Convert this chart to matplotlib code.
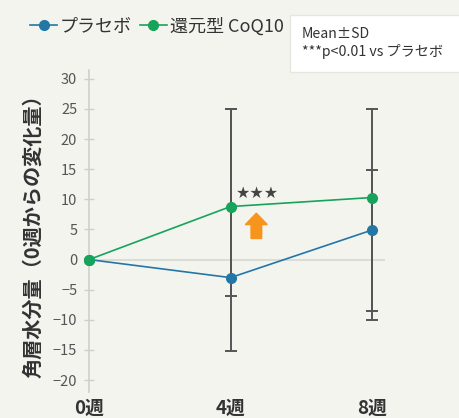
import matplotlib
matplotlib.use("Agg")
import matplotlib.pyplot as plt
from matplotlib.lines import Line2D
from matplotlib.patches import FancyArrow, Rectangle

plt.rcParams['font.family'] = ['Noto Sans CJK JP', 'DejaVu Sans']

# data
weeks = [0, 4, 8]
week_labels = ['0週', '4週', '8週']
placebo = [0, -3.0, 4.9]
coq10 = [0, 8.8, 10.3]
# error bar ends
placebo_low = [0, -15.2, -10.1]
placebo_high = [0, 25.0, 14.9]
coq10_low = [0, -6.1, -8.6]
coq10_high = [0, 25.0, 25.0]

series_names = ['プラセボ', '還元型 CoQ10']
ylabel = '角層水分量（0週からの変化量）'
note_lines = ['Mean±SD', '***p<0.01 vs プラセボ']

bg = '#f4f4ef'
blue = '#2277a6'
green = '#16a35a'
orange = '#f7941d'
err_col = '#555555'

fig = plt.figure(figsize=(4.59, 4.18), dpi=100, facecolor=bg)
ax = fig.add_axes([0.194, 0.062, 0.645, 0.771], facecolor=bg)

ax.axhline(0, color='#d8d8d2', lw=1.2, zorder=1)

for vals, lo, hi in [(placebo, placebo_low, placebo_high), (coq10, coq10_low, coq10_high)]:
    x = weeks[1:]
    y = vals[1:]
    yerr = [[v - l for v, l in zip(y, lo[1:])], [h - v for v, h in zip(y, hi[1:])]]
    ax.errorbar(x, y, yerr=yerr, fmt='none', ecolor=err_col, elinewidth=1.4,
                capsize=4, capthick=1.4, zorder=2)

ax.plot(weeks, placebo, color=blue, lw=1.2, marker='o', ms=7, zorder=4, clip_on=False)
ax.plot(weeks, coq10, color=green, lw=1.2, marker='o', ms=7, zorder=5, clip_on=False)

ax.text(4.15, coq10[1] + 0.9, '★★★', fontsize=11.5, color='#444444',
        ha='left', va='bottom', family=['DejaVu Sans'])
ax.add_patch(FancyArrow(4.73, 3.5, 0, 2.3, width=0.3, head_width=0.62,
                        head_length=1.9, length_includes_head=False,
                        color=orange, zorder=6))

ax.set_xlim(0, 8.37)
ax.set_ylim(-22, 31.5)
ax.set_yticks(range(-20, 31, 5))
ax.set_xticks(weeks)
ax.set_xticklabels(week_labels, fontsize=13.5, fontweight='bold', color='#333333')
ax.tick_params(axis='x', length=0, pad=5)
ax.tick_params(axis='y', direction='inout', length=7, width=1, color='#cfcfcb',
               labelsize=10.5, labelcolor='#555555', pad=5)
for s in ['top', 'right', 'bottom']:
    ax.spines[s].set_visible(False)
ax.spines['left'].set_color('#cfcfcb')
ax.spines['left'].set_linewidth(1.2)

ax.set_ylabel(ylabel, fontsize=14.5, fontweight='bold', color='#333333', labelpad=7)

handles = [Line2D([0], [0], color=blue, lw=1.2, marker='o', ms=7),
           Line2D([0], [0], color=green, lw=1.2, marker='o', ms=7)]
fig.legend(handles, series_names, loc='upper left', bbox_to_anchor=(0.03, 0.997),
           ncol=2, frameon=False, handlelength=1.5,
           handletextpad=0.15, columnspacing=0.45, labelcolor='#333333',
           prop={'size': 13})

fig.patches.append(Rectangle((290 / 459, 1 - 72 / 418), 0.4, 57 / 418,
                             transform=fig.transFigure, fc='white', ec='#e6e6e0',
                             lw=1, zorder=0))
fig.text(302 / 459, 1 - 43 / 418, '\n'.join(note_lines), fontsize=10.2, color='#333333',
         ha='left', va='center', linespacing=1.25)

fig.savefig('out.png', dpi=100, facecolor=bg)
